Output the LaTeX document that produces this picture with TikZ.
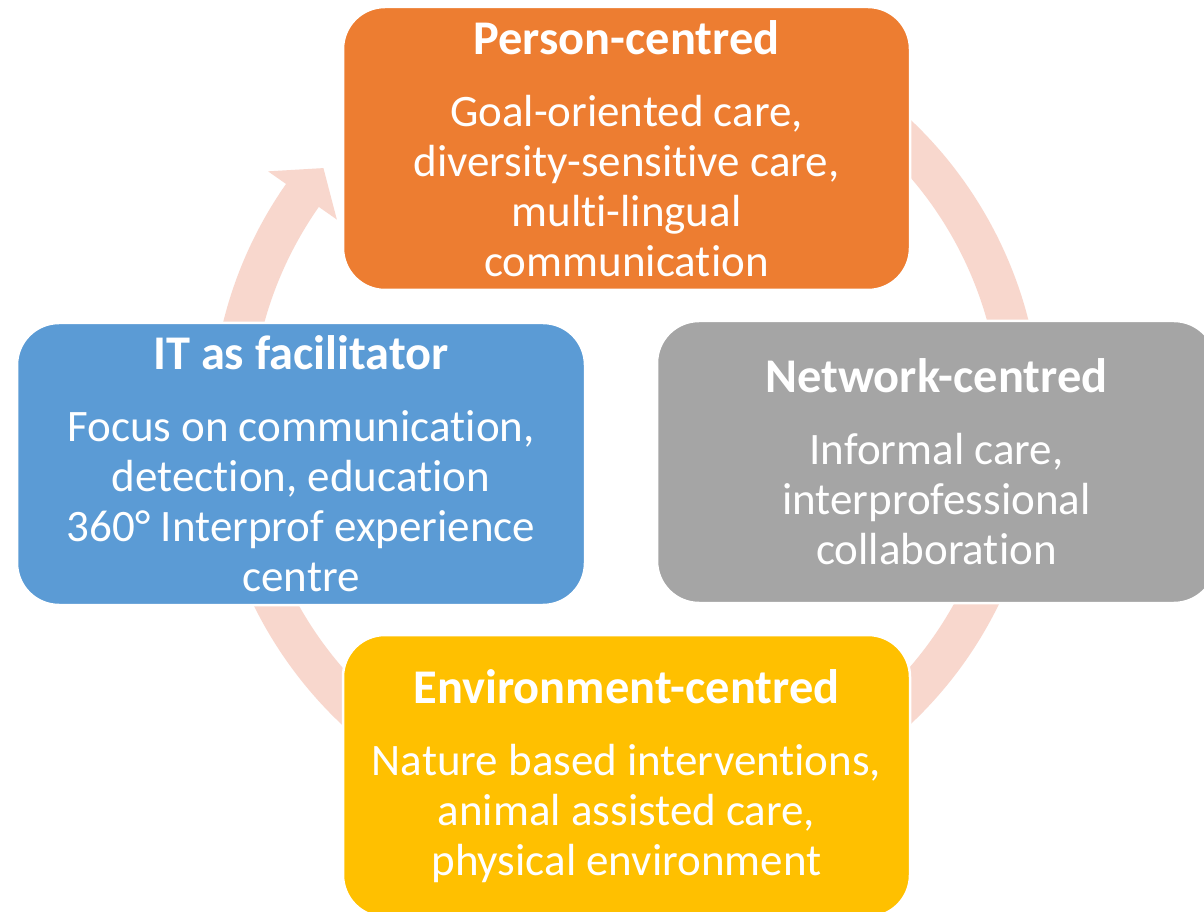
\documentclass[tikz,border=0pt]{standalone}
\usepackage{fontspec}
\setmainfont{Carlito}[Ligatures=NoCommon]
\usetikzlibrary{calc}
\definecolor{orangeA}{HTML}{ED7D31}
\definecolor{grayA}{HTML}{A5A5A5}
\definecolor{yellowA}{HTML}{FFC000}
\definecolor{blueA}{HTML}{5B9BD5}
\definecolor{ringA}{HTML}{F8D7CD}
\newcommand{\cardtitle}[1]{{\fontsize{48.4}{50}\selectfont\bfseries #1}}
\tikzset{
  cardbox/.style={rounded corners=42pt, draw=white, line width=2.5pt, text=white,
    align=center, inner sep=0pt, font=\fontsize{45}{50}\selectfont},
}
\begin{document}
\begin{tikzpicture}[x=1pt,y=1pt]
\useasboundingbox (0,0) rectangle (1204,911);
\fill[white] (0,0) rectangle (1204,911);
\coordinate (C) at (626,489);
% circular arrow ring
\fill[ringA] ($(C)+(120:415)$) arc[start angle=120, end angle=-215, radius=415]
  -- ($(C)+(145:437)$) -- ($(C)+(140:395)$) -- ($(C)+(145:353)$) -- ($(C)+(145:375)$)
  arc[start angle=-215, end angle=120, radius=375] -- cycle;
\node[cardbox, fill=orangeA, minimum width=567pt, minimum height=283pt] (person) at (626.5,762.5)
  {\cardtitle{Person-centred}\\[22pt]Goal-oriented care,\\diversity-sensitive care,\\multi-lingual\\communication};
\node[cardbox, fill=grayA, minimum width=559pt, minimum height=282pt] (network) at (936.5,449)
  {\cardtitle{Network-centred}\\[22pt]Informal care,\\interprofessional\\collaboration};
\node[cardbox, fill=yellowA, minimum width=567pt, minimum height=282pt] (env) at (626.5,135)
  {\cardtitle{Environment-centred}\\[22pt]Nature based interventions,\\animal assisted care,\\physical environment};
\node[cardbox, fill=blueA, minimum width=568pt, minimum height=282pt] (it) at (301,447)
  {\cardtitle{IT as facilitator}\\[22pt]Focus on communication,\\detection, education\\360° Interprof experience\\centre};
\end{tikzpicture}
\end{document}
